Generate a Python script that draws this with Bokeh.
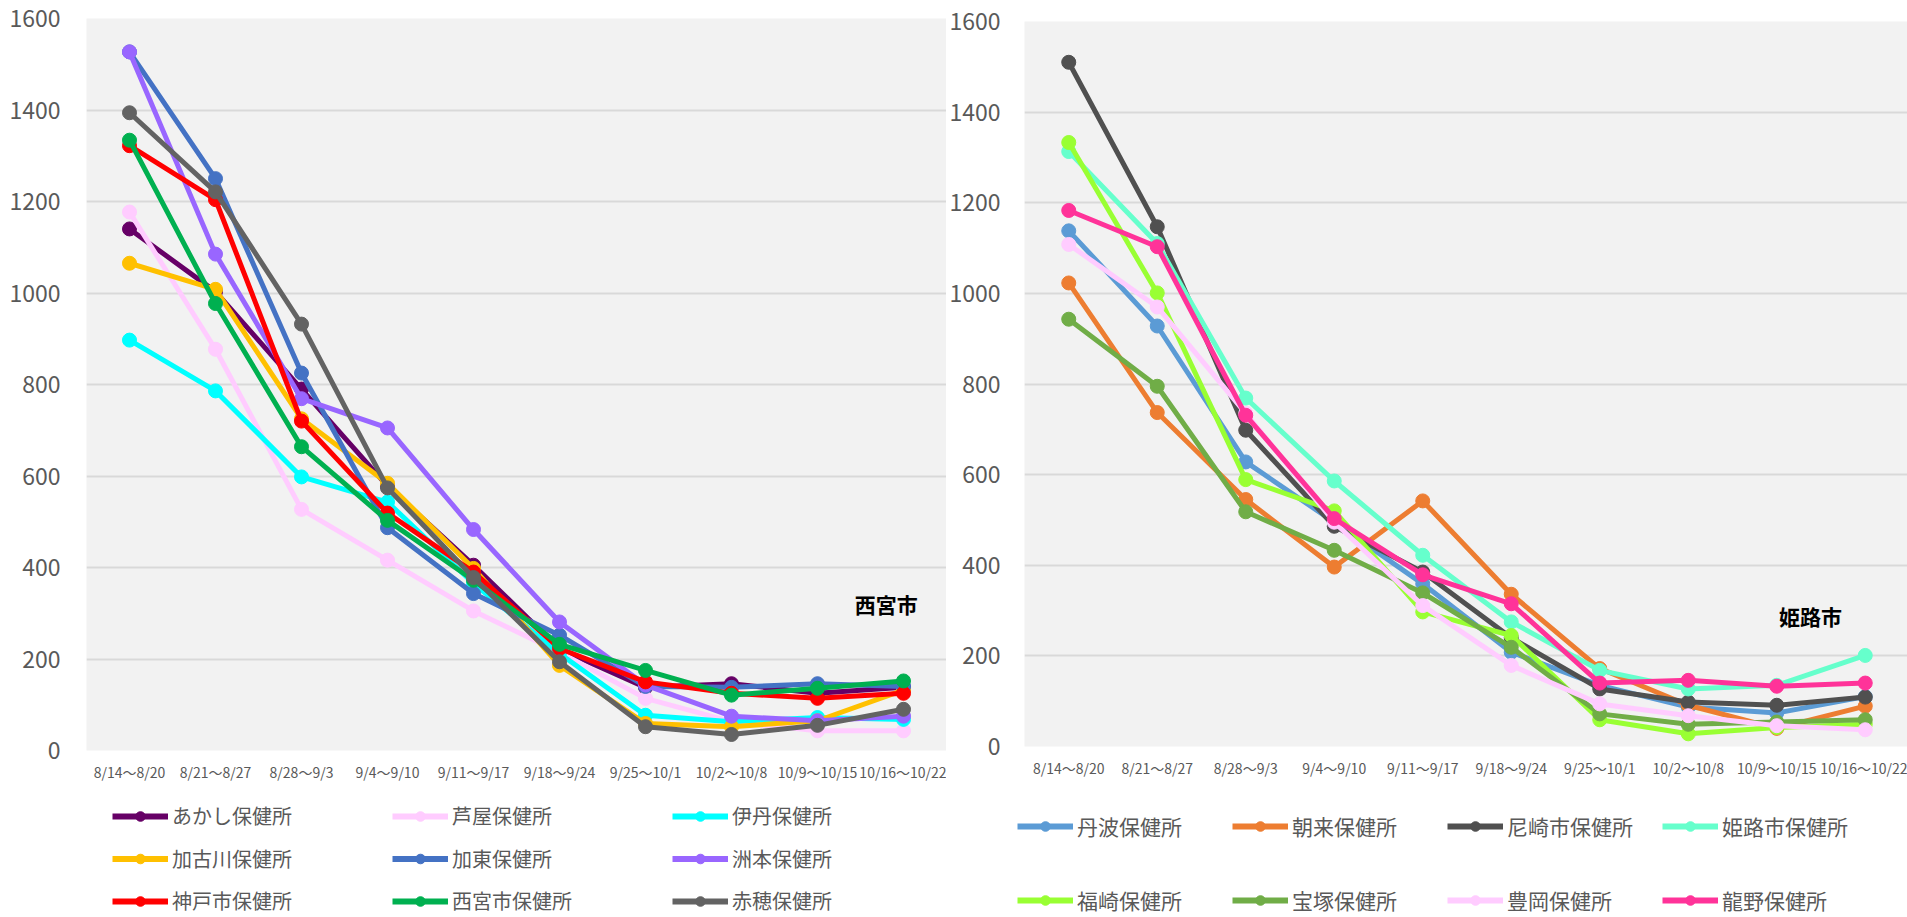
from bokeh.plotting import figure
from bokeh.models import (ColumnDataSource, FixedTicker, Range1d, Legend, LegendItem, Label)
from bokeh.layouts import row, column
from bokeh.embed import file_html
from bokeh.resources import INLINE

# ---------------- data ----------------
categories = ["8/14～8/20", "8/21～8/27", "8/28～9/3", "9/4～9/10", "9/11～9/17",
              "9/18～9/24", "9/25～10/1", "10/2～10/8", "10/9～10/15", "10/16～10/22"]
y_ticks = [0, 200, 400, 600, 800, 1000, 1200, 1400, 1600]

left_names = ["あかし保健所", "芦屋保健所", "伊丹保健所", "加古川保健所", "加東保健所",
              "洲本保健所", "神戸市保健所", "西宮市保健所", "赤穂保健所"]
akashi   = [1140, 1003, 790, 578, 405, 222, 138, 146, 125, 138]
ashiya   = [1177, 877, 527, 416, 305, 215, 114, 63, 43, 43]
itami    = [897, 786, 598, 543, 365, 212, 77, 63, 72, 68]
kakogawa = [1065, 1008, 725, 584, 398, 186, 59, 52, 65, 132]
kato     = [1527, 1250, 825, 487, 343, 252, 140, 138, 146, 140]
sumoto   = [1527, 1085, 769, 705, 483, 281, 143, 75, 65, 75]
kobe     = [1322, 1204, 720, 519, 390, 223, 150, 125, 114, 125]
nishinomiya = [1334, 977, 664, 503, 372, 232, 175, 121, 136, 152]
ako      = [1394, 1221, 932, 574, 378, 194, 52, 35, 55, 90]
left_series = [akashi, ashiya, itami, kakogawa, kato, sumoto, kobe, nishinomiya, ako]
left_colors = ["#660066", "#ffccff", "#00ffff", "#ffc000", "#4472c4",
               "#9966ff", "#ff0000", "#00b050", "#636363"]

right_names = ["丹波保健所", "朝来保健所", "尼崎市保健所", "姫路市保健所",
               "福崎保健所", "宝塚保健所", "豊岡保健所", "龍野保健所"]
tamba     = [1138, 928, 628, 495, 359, 208, 135, 87, 74, 110]
asago     = [1023, 737, 545, 396, 542, 336, 172, 91, 40, 89]
amagasaki = [1510, 1147, 698, 486, 385, 240, 127, 98, 91, 109]
himeji    = [1313, 1110, 769, 586, 422, 275, 168, 127, 135, 201]
fukusaki  = [1333, 1001, 589, 520, 297, 245, 59, 28, 42, 49]
takarazuka = [943, 795, 518, 433, 339, 219, 72, 49, 54, 59]
toyooka   = [1108, 970, 735, 495, 311, 179, 94, 68, 46, 37]
tatsuno   = [1183, 1103, 731, 503, 379, 315, 140, 146, 133, 140]
right_series = [tamba, asago, amagasaki, himeji, fukusaki, takarazuka, toyooka, tatsuno]
right_colors = ["#5b9bd5", "#ed7d31", "#505050", "#66ffcc",
                "#99ff33", "#70ad47", "#ffccff", "#ff3399"]

FONT = "Noto Sans CJK JP"
TXT = "#595959"
CHART_H = 790
LEG_H = 127


def make_chart(names, series, colors, width, border_left, border_top, border_bottom,
               x_end, y_standoff, note, note_x, note_y,
               ncols, label_width, leg_border_left, leg_border_top, leg_border_bottom,
               row_locs, legend_font):
    p = figure(width=width, height=CHART_H, output_backend="svg", toolbar_location=None,
               x_range=Range1d(-0.5, x_end), y_range=Range1d(0, 1600),
               min_border_left=border_left, min_border_right=0,
               min_border_top=border_top, min_border_bottom=border_bottom,
               frame_align=False)
    p.background_fill_color = "#f2f2f2"
    p.border_fill_color = "white"
    p.outline_line_color = None
    p.xgrid.grid_line_color = None
    p.ygrid.grid_line_color = "#d9d9d9"
    p.ygrid.grid_line_width = 2
    p.yaxis.ticker = FixedTicker(ticks=y_ticks)
    p.xaxis.ticker = FixedTicker(ticks=list(range(len(categories))))
    p.xaxis.major_label_overrides = {i: c for i, c in enumerate(categories)}
    for ax in (p.xaxis, p.yaxis):
        ax.axis_line_color = None
        ax.major_tick_line_color = None
        ax.minor_tick_line_color = None
        ax.major_tick_out = 0
        ax.major_tick_in = 0
        ax.major_label_text_font = FONT
        ax.major_label_text_color = TXT
    p.yaxis.major_label_text_font_size = "23px"
    p.yaxis.major_label_standoff = y_standoff
    p.xaxis.major_label_text_font_size = "14px"
    p.xaxis.major_label_standoff = 11

    # legend-only figure below the chart
    lg_fig = figure(width=width, height=LEG_H, output_backend="svg", toolbar_location=None,
                    x_range=Range1d(100, 101), y_range=Range1d(100, 101),
                    x_axis_location=None, y_axis_location=None,
                    min_border_left=leg_border_left, min_border_right=0,
                    min_border_top=leg_border_top, min_border_bottom=leg_border_bottom,
                    frame_align=False)
    lg_fig.grid.visible = False
    lg_fig.outline_line_color = None
    lg_fig.background_fill_color = "white"
    lg_fig.border_fill_color = "white"

    xs = list(range(len(categories)))
    items = []
    for name, vals, col in zip(names, series, colors):
        src = ColumnDataSource(dict(x=xs, y=vals))
        p.line("x", "y", source=src, line_color=col, line_width=5, line_join="round")
        p.scatter("x", "y", source=src, size=14, fill_color=col, line_color=col)
        lr = lg_fig.line("x", "y", source=src, line_color=col, line_width=6)
        sr = lg_fig.scatter("x", "y", source=src, size=14, fill_color=col, line_color=col)
        items.append(LegendItem(label=name, renderers=[lr, sr]))

    for r, loc in enumerate(row_locs):
        chunk = items[r * ncols:(r + 1) * ncols]
        lg = Legend(items=chunk, location=loc, orientation="horizontal",
                    padding=0, margin=0, spacing=0,
                    glyph_width=56, glyph_height=24, label_height=24,
                    label_width=label_width, label_standoff=4,
                    border_line_color=None, background_fill_alpha=0,
                    label_text_font=FONT, label_text_font_size=legend_font,
                    label_text_color=TXT)
        lg_fig.add_layout(lg)

    p.add_layout(Label(x=note_x, y=note_y, text=note, text_font=FONT,
                       text_font_style="bold", text_font_size="21px",
                       text_color="black", text_align="center", text_baseline="middle"))
    return column(p, lg_fig)


left = make_chart(left_names, left_series, left_colors, width=946,
                  border_left=86, border_top=18, border_bottom=40, x_end=9.5,
                  y_standoff=26, note="西宮市", note_x=8.8, note_y=321,
                  ncols=3, label_width=220, leg_border_left=112,
                  leg_border_top=11, leg_border_bottom=2,
                  row_locs=["top_left", "left", "bottom_left"], legend_font="20px")

right = make_chart(right_names, right_series, right_colors, width=961,
                   border_left=77, border_top=21, border_bottom=44,
                   x_end=-0.5 + 884 / 88.6,
                   y_standoff=24, note="姫路市", note_x=8.38, note_y=289,
                   ncols=4, label_width=155, leg_border_left=71,
                   leg_border_top=21, leg_border_bottom=2,
                   row_locs=["top_left", "bottom_left"], legend_font="21px")

layout = row(left, right)
open("out.html", "w").write(file_html(layout, INLINE))
